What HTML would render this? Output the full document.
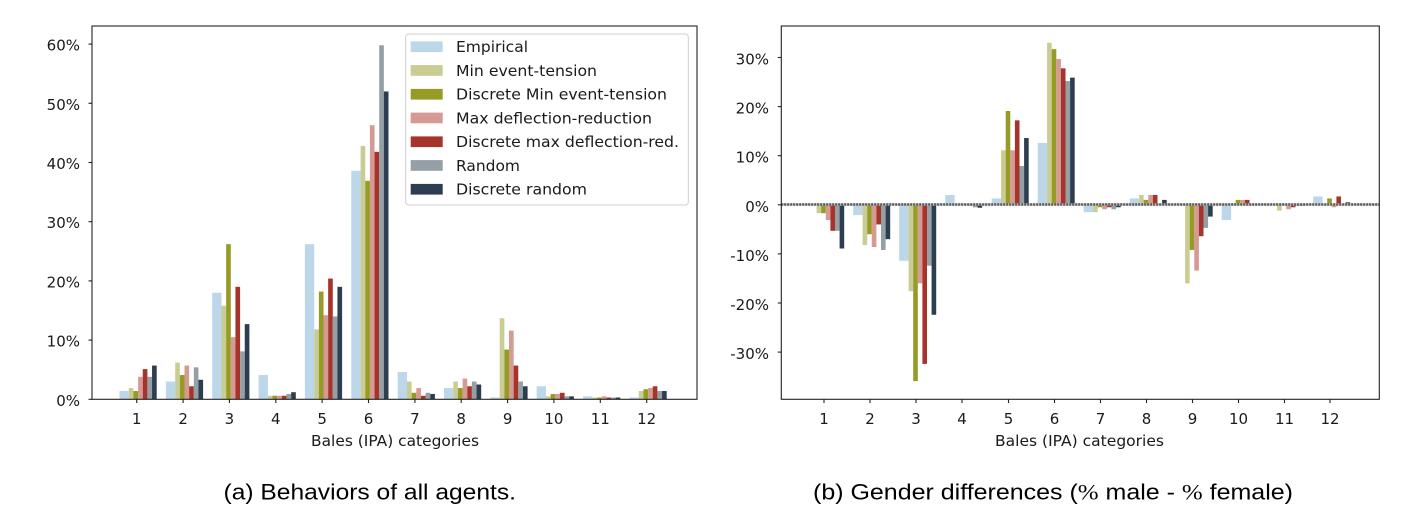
<!DOCTYPE html>
<html><head><meta charset="utf-8"><style>
html,body{margin:0;padding:0;background:#fff;}
svg{display:block;}
.c0{fill:#bcd6ea}.c1{fill:#c9cc93}.c2{fill:#969b25}.c3{fill:#d49a93}.c4{fill:#a6342a}.c5{fill:#959fa6}.c6{fill:#2c3e50}
text{font-family:"DejaVu Sans","Liberation Sans",sans-serif;fill:#1a1a1a;}
.tk{font-size:15px;}
.cap{font-family:"Liberation Sans",sans-serif;font-size:22px;fill:#000;}
</style></head><body>
<svg width="1407" height="521" viewBox="0 0 1407 521" xmlns="http://www.w3.org/2000/svg">
<rect width="1407" height="521" fill="#fff"/>

<!-- LEFT CHART BARS -->
<g transform="translate(136.7,399.3) scale(1,-5.92)"><rect class="c0" x="-17.2" width="9.3" height="1.4"/><rect class="c1" x="-7.9" width="4.65" height="1.9"/><rect class="c2" x="-3.25" width="4.65" height="1.4"/><rect class="c3" x="1.4" width="4.65" height="3.8"/><rect class="c4" x="6.05" width="4.65" height="5.1"/><rect class="c5" x="10.7" width="4.65" height="3.8"/><rect class="c6" x="15.35" width="4.65" height="5.7"/></g>
<g transform="translate(183.1,399.3) scale(1,-5.92)"><rect class="c0" x="-17.2" width="9.3" height="3.0"/><rect class="c1" x="-7.9" width="4.65" height="6.2"/><rect class="c2" x="-3.25" width="4.65" height="4.1"/><rect class="c3" x="1.4" width="4.65" height="5.7"/><rect class="c4" x="6.05" width="4.65" height="2.2"/><rect class="c5" x="10.7" width="4.65" height="5.4"/><rect class="c6" x="15.35" width="4.65" height="3.3"/></g>
<g transform="translate(229.4,399.3) scale(1,-5.92)"><rect class="c0" x="-17.2" width="9.3" height="18.0"/><rect class="c1" x="-7.9" width="4.65" height="15.8"/><rect class="c2" x="-3.25" width="4.65" height="26.2"/><rect class="c3" x="1.4" width="4.65" height="10.5"/><rect class="c4" x="6.05" width="4.65" height="19.0"/><rect class="c5" x="10.7" width="4.65" height="8.1"/><rect class="c6" x="15.35" width="4.65" height="12.7"/></g>
<g transform="translate(275.8,399.3) scale(1,-5.92)"><rect class="c0" x="-17.2" width="9.3" height="4.1"/><rect class="c1" x="-7.9" width="4.65" height="0.6"/><rect class="c2" x="-3.25" width="4.65" height="0.6"/><rect class="c3" x="1.4" width="4.65" height="0.6"/><rect class="c4" x="6.05" width="4.65" height="0.6"/><rect class="c5" x="10.7" width="4.65" height="0.9"/><rect class="c6" x="15.35" width="4.65" height="1.2"/></g>
<g transform="translate(322.1,399.3) scale(1,-5.92)"><rect class="c0" x="-17.2" width="9.3" height="26.2"/><rect class="c1" x="-7.9" width="4.65" height="11.8"/><rect class="c2" x="-3.25" width="4.65" height="18.2"/><rect class="c3" x="1.4" width="4.65" height="14.2"/><rect class="c4" x="6.05" width="4.65" height="20.4"/><rect class="c5" x="10.7" width="4.65" height="14.0"/><rect class="c6" x="15.35" width="4.65" height="19.0"/></g>
<g transform="translate(368.5,399.3) scale(1,-5.92)"><rect class="c0" x="-17.2" width="9.3" height="38.6"/><rect class="c1" x="-7.9" width="4.65" height="42.8"/><rect class="c2" x="-3.25" width="4.65" height="36.9"/><rect class="c3" x="1.4" width="4.65" height="46.3"/><rect class="c4" x="6.05" width="4.65" height="41.8"/><rect class="c5" x="10.7" width="4.65" height="59.8"/><rect class="c6" x="15.35" width="4.65" height="52.0"/></g>
<g transform="translate(414.9,399.3) scale(1,-5.92)"><rect class="c0" x="-17.2" width="9.3" height="4.6"/><rect class="c1" x="-7.9" width="4.65" height="3.0"/><rect class="c2" x="-3.25" width="4.65" height="1.1"/><rect class="c3" x="1.4" width="4.65" height="1.9"/><rect class="c4" x="6.05" width="4.65" height="0.6"/><rect class="c5" x="10.7" width="4.65" height="1.1"/><rect class="c6" x="15.35" width="4.65" height="0.9"/></g>
<g transform="translate(461.2,399.3) scale(1,-5.92)"><rect class="c0" x="-17.2" width="9.3" height="1.9"/><rect class="c1" x="-7.9" width="4.65" height="3.0"/><rect class="c2" x="-3.25" width="4.65" height="1.9"/><rect class="c3" x="1.4" width="4.65" height="3.5"/><rect class="c4" x="6.05" width="4.65" height="2.2"/><rect class="c5" x="10.7" width="4.65" height="3.0"/><rect class="c6" x="15.35" width="4.65" height="2.5"/></g>
<g transform="translate(507.6,399.3) scale(1,-5.92)"><rect class="c0" x="-17.2" width="9.3" height="0.3"/><rect class="c1" x="-7.9" width="4.65" height="13.7"/><rect class="c2" x="-3.25" width="4.65" height="8.4"/><rect class="c3" x="1.4" width="4.65" height="11.6"/><rect class="c4" x="6.05" width="4.65" height="5.7"/><rect class="c5" x="10.7" width="4.65" height="3.0"/><rect class="c6" x="15.35" width="4.65" height="2.2"/></g>
<g transform="translate(553.9,399.3) scale(1,-5.92)"><rect class="c0" x="-17.2" width="9.3" height="2.2"/><rect class="c1" x="-7.9" width="4.65" height="0.5"/><rect class="c2" x="-3.25" width="4.65" height="0.9"/><rect class="c3" x="1.4" width="4.65" height="0.9"/><rect class="c4" x="6.05" width="4.65" height="1.1"/><rect class="c5" x="10.7" width="4.65" height="0.5"/><rect class="c6" x="15.35" width="4.65" height="0.5"/></g>
<g transform="translate(600.3,399.3) scale(1,-5.92)"><rect class="c0" x="-17.2" width="9.3" height="0.5"/><rect class="c1" x="-7.9" width="4.65" height="0.3"/><rect class="c2" x="-3.25" width="4.65" height="0.3"/><rect class="c3" x="1.4" width="4.65" height="0.5"/><rect class="c4" x="6.05" width="4.65" height="0.3"/><rect class="c5" x="10.7" width="4.65" height="0.3"/><rect class="c6" x="15.35" width="4.65" height="0.3"/></g>
<g transform="translate(646.7,399.3) scale(1,-5.92)"><rect class="c0" x="-17.2" width="9.3" height="0.3"/><rect class="c1" x="-7.9" width="4.65" height="1.4"/><rect class="c2" x="-3.25" width="4.65" height="1.7"/><rect class="c3" x="1.4" width="4.65" height="1.9"/><rect class="c4" x="6.05" width="4.65" height="2.2"/><rect class="c5" x="10.7" width="4.65" height="1.4"/><rect class="c6" x="15.35" width="4.65" height="1.4"/></g>

<!-- LEFT AXES -->
<rect x="92" y="26" width="605" height="373.3" fill="none" stroke="#222" stroke-width="1.1"/>
<g stroke="#222" stroke-width="1.1">
<line x1="88.5" x2="92" y1="399.3" y2="399.3"/><line x1="88.5" x2="92" y1="340.1" y2="340.1"/><line x1="88.5" x2="92" y1="280.9" y2="280.9"/><line x1="88.5" x2="92" y1="221.7" y2="221.7"/><line x1="88.5" x2="92" y1="162.5" y2="162.5"/><line x1="88.5" x2="92" y1="103.3" y2="103.3"/><line x1="88.5" x2="92" y1="44.1" y2="44.1"/>
<line x1="136.7" x2="136.7" y1="399.3" y2="403"/><line x1="183.1" x2="183.1" y1="399.3" y2="403"/><line x1="229.4" x2="229.4" y1="399.3" y2="403"/><line x1="275.8" x2="275.8" y1="399.3" y2="403"/><line x1="322.1" x2="322.1" y1="399.3" y2="403"/><line x1="368.5" x2="368.5" y1="399.3" y2="403"/><line x1="414.9" x2="414.9" y1="399.3" y2="403"/><line x1="461.2" x2="461.2" y1="399.3" y2="403"/><line x1="507.6" x2="507.6" y1="399.3" y2="403"/><line x1="553.9" x2="553.9" y1="399.3" y2="403"/><line x1="600.3" x2="600.3" y1="399.3" y2="403"/><line x1="646.7" x2="646.7" y1="399.3" y2="403"/>
</g>
<g class="tk" text-anchor="end">
<text x="80" y="405.8">0%</text><text x="80" y="346.6">10%</text><text x="80" y="287.4">20%</text><text x="80" y="228.2">30%</text><text x="80" y="169">40%</text><text x="80" y="109.8">50%</text><text x="80" y="50.6">60%</text>
</g>
<g class="tk" text-anchor="middle">
<text x="136.7" y="424">1</text><text x="183.1" y="424">2</text><text x="229.4" y="424">3</text><text x="275.8" y="424">4</text><text x="322.1" y="424">5</text><text x="368.5" y="424">6</text><text x="414.9" y="424">7</text><text x="461.2" y="424">8</text><text x="507.6" y="424">9</text><text x="553.9" y="424">10</text><text x="600.3" y="424">11</text><text x="646.7" y="424">12</text>
</g>
<text x="311" y="446" font-size="15" textLength="168" lengthAdjust="spacingAndGlyphs">Bales (IPA) categories</text>

<!-- LEGEND -->
<rect x="405.7" y="34" width="282.6" height="171" rx="3" fill="#fff" fill-opacity="0.85" stroke="#cfcfcf" stroke-width="1"/>
<rect class="c0" x="410.7" y="41.4" width="32" height="10.7"/>
<rect class="c1" x="410.7" y="65.1" width="32" height="10.7"/>
<rect class="c2" x="410.7" y="88.9" width="32" height="10.7"/>
<rect class="c3" x="410.7" y="112.6" width="32" height="10.7"/>
<rect class="c4" x="410.7" y="136.4" width="32" height="10.7"/>
<rect class="c5" x="410.7" y="160.1" width="32" height="10.7"/>
<rect class="c6" x="410.7" y="183.9" width="32" height="10.7"/>
<g font-size="15.5">
<text x="456" y="52.2" textLength="72" lengthAdjust="spacingAndGlyphs">Empirical</text>
<text x="456" y="75.9" textLength="141" lengthAdjust="spacingAndGlyphs">Min event-tension</text>
<text x="456" y="99.7" textLength="211" lengthAdjust="spacingAndGlyphs">Discrete Min event-tension</text>
<text x="456" y="123.4" textLength="196" lengthAdjust="spacingAndGlyphs">Max deflection-reduction</text>
<text x="456" y="147.2" textLength="223" lengthAdjust="spacingAndGlyphs">Discrete max deflection-red.</text>
<text x="456" y="170.9" textLength="64" lengthAdjust="spacingAndGlyphs">Random</text>
<text x="456" y="194.7" textLength="131" lengthAdjust="spacingAndGlyphs">Discrete random</text>
</g>

<!-- RIGHT CHART BARS -->
<g transform="translate(824,204.8) scale(1,-4.91)"><rect class="c1" x="-7.4" y="-1.7" width="4.6" height="1.7"/><rect class="c2" x="-2.8" y="-1.7" width="4.6" height="1.7"/><rect class="c3" x="1.8" y="-3.1" width="4.6" height="3.1"/><rect class="c4" x="6.4" y="-5.3" width="4.6" height="5.3"/><rect class="c5" x="11" y="-5.3" width="4.6" height="5.3"/><rect class="c6" x="15.6" y="-8.9" width="4.6" height="8.9"/></g>
<g transform="translate(870,204.8) scale(1,-4.91)"><rect class="c0" x="-16.8" y="-2.1" width="9.4" height="2.1"/><rect class="c1" x="-7.4" y="-8.2" width="4.6" height="8.2"/><rect class="c2" x="-2.8" y="-6.0" width="4.6" height="6.0"/><rect class="c3" x="1.8" y="-8.6" width="4.6" height="8.6"/><rect class="c4" x="6.4" y="-4.0" width="4.6" height="4.0"/><rect class="c5" x="11" y="-9.2" width="4.6" height="9.2"/><rect class="c6" x="15.6" y="-7.0" width="4.6" height="7.0"/></g>
<g transform="translate(916,204.8) scale(1,-4.91)"><rect class="c0" x="-16.8" y="-11.4" width="9.4" height="11.4"/><rect class="c1" x="-7.4" y="-17.6" width="4.6" height="17.6"/><rect class="c2" x="-2.8" y="-35.9" width="4.6" height="35.9"/><rect class="c3" x="1.8" y="-16.0" width="4.6" height="16.0"/><rect class="c4" x="6.4" y="-32.4" width="4.6" height="32.4"/><rect class="c5" x="11" y="-12.4" width="4.6" height="12.4"/><rect class="c6" x="15.6" y="-22.4" width="4.6" height="22.4"/></g>
<g transform="translate(962,204.8) scale(1,-4.91)"><rect class="c0" x="-16.8" y="0" width="9.4" height="2.0"/><rect class="c4" x="6.4" y="-0.2" width="4.6" height="0.2"/><rect class="c5" x="11" y="-0.5" width="4.6" height="0.5"/><rect class="c6" x="15.6" y="-0.6" width="4.6" height="0.6"/></g>
<g transform="translate(1008.5,204.8) scale(1,-4.91)"><rect class="c0" x="-16.8" y="0" width="9.4" height="1.3"/><rect class="c1" x="-7.4" y="0" width="4.6" height="11.1"/><rect class="c2" x="-2.8" y="0" width="4.6" height="19.1"/><rect class="c3" x="1.8" y="0" width="4.6" height="11.1"/><rect class="c4" x="6.4" y="0" width="4.6" height="17.2"/><rect class="c5" x="11" y="0" width="4.6" height="7.9"/><rect class="c6" x="15.6" y="0" width="4.6" height="13.6"/></g>
<g transform="translate(1054.5,204.8) scale(1,-4.91)"><rect class="c0" x="-16.8" y="0" width="9.4" height="12.6"/><rect class="c1" x="-7.4" y="0" width="4.6" height="33.0"/><rect class="c2" x="-2.8" y="0" width="4.6" height="31.7"/><rect class="c3" x="1.8" y="0" width="4.6" height="29.7"/><rect class="c4" x="6.4" y="0" width="4.6" height="27.8"/><rect class="c5" x="11" y="0" width="4.6" height="25.2"/><rect class="c6" x="15.6" y="0" width="4.6" height="25.9"/></g>
<g transform="translate(1100.5,204.8) scale(1,-4.91)"><rect class="c0" x="-16.8" y="-1.5" width="9.4" height="1.5"/><rect class="c1" x="-7.4" y="-1.5" width="4.6" height="1.5"/><rect class="c2" x="-2.8" y="-0.5" width="4.6" height="0.5"/><rect class="c3" x="1.8" y="-0.9" width="4.6" height="0.9"/><rect class="c4" x="6.4" y="-0.5" width="4.6" height="0.5"/><rect class="c5" x="11" y="-0.9" width="4.6" height="0.9"/><rect class="c6" x="15.6" y="-0.5" width="4.6" height="0.5"/></g>
<g transform="translate(1146.5,204.8) scale(1,-4.91)"><rect class="c0" x="-16.8" y="0" width="9.4" height="1.3"/><rect class="c1" x="-7.4" y="0" width="4.6" height="2.0"/><rect class="c2" x="-2.8" y="0" width="4.6" height="1.0"/><rect class="c3" x="1.8" y="0" width="4.6" height="2.0"/><rect class="c4" x="6.4" y="0" width="4.6" height="2.0"/><rect class="c5" x="11" y="0" width="4.6" height="0.2"/><rect class="c6" x="15.6" y="0" width="4.6" height="1.0"/></g>
<g transform="translate(1192.5,204.8) scale(1,-4.91)"><rect class="c1" x="-7.4" y="-16.0" width="4.6" height="16.0"/><rect class="c2" x="-2.8" y="-9.2" width="4.6" height="9.2"/><rect class="c3" x="1.8" y="-13.4" width="4.6" height="13.4"/><rect class="c4" x="6.4" y="-6.4" width="4.6" height="6.4"/><rect class="c5" x="11" y="-4.7" width="4.6" height="4.7"/><rect class="c6" x="15.6" y="-2.4" width="4.6" height="2.4"/></g>
<g transform="translate(1238.5,204.8) scale(1,-4.91)"><rect class="c0" x="-16.8" y="-3.1" width="9.4" height="3.1"/><rect class="c1" x="-7.4" y="0" width="4.6" height="0.3"/><rect class="c2" x="-2.8" y="0" width="4.6" height="1.0"/><rect class="c3" x="1.8" y="0" width="4.6" height="1.0"/><rect class="c4" x="6.4" y="0" width="4.6" height="1.0"/><rect class="c5" x="11" y="0" width="4.6" height="0.1"/><rect class="c6" x="15.6" y="0" width="4.6" height="0.2"/></g>
<g transform="translate(1284.5,204.8) scale(1,-4.91)"><rect class="c1" x="-7.4" y="-1.2" width="4.6" height="1.2"/><rect class="c3" x="1.8" y="-0.9" width="4.6" height="0.9"/><rect class="c4" x="6.4" y="-0.5" width="4.6" height="0.5"/><rect class="c5" x="11" y="-0.2" width="4.6" height="0.2"/><rect class="c6" x="15.6" y="-0.2" width="4.6" height="0.2"/></g>
<g transform="translate(1330,204.8) scale(1,-4.91)"><rect class="c0" x="-16.8" y="0" width="9.4" height="1.7"/><rect class="c2" x="-2.8" y="0" width="4.6" height="1.3"/><rect class="c3" x="1.8" y="-0.5" width="4.6" height="0.5"/><rect class="c4" x="6.4" y="0" width="4.6" height="1.7"/><rect class="c6" x="15.6" y="0" width="4.6" height="0.5"/></g>

<!-- zero dotted line -->
<line x1="781.3" x2="1379.3" y1="204.5" y2="204.5" stroke="#b5b5b5" stroke-width="2.4"/>
<line x1="781.3" x2="1379.3" y1="204.5" y2="204.5" stroke="#555" stroke-width="2.4" stroke-dasharray="1.6 1.4"/>

<!-- RIGHT AXES -->
<rect x="781.3" y="26" width="598" height="373.3" fill="none" stroke="#222" stroke-width="1.1"/>
<g stroke="#222" stroke-width="1.1">
<line x1="777.8" x2="781.3" y1="57.5" y2="57.5"/><line x1="777.8" x2="781.3" y1="106.6" y2="106.6"/><line x1="777.8" x2="781.3" y1="155.7" y2="155.7"/><line x1="777.8" x2="781.3" y1="204.8" y2="204.8"/><line x1="777.8" x2="781.3" y1="253.9" y2="253.9"/><line x1="777.8" x2="781.3" y1="303" y2="303"/><line x1="777.8" x2="781.3" y1="352.1" y2="352.1"/>
<line x1="824" x2="824" y1="399.3" y2="403"/><line x1="870" x2="870" y1="399.3" y2="403"/><line x1="916" x2="916" y1="399.3" y2="403"/><line x1="962" x2="962" y1="399.3" y2="403"/><line x1="1008.5" x2="1008.5" y1="399.3" y2="403"/><line x1="1054.5" x2="1054.5" y1="399.3" y2="403"/><line x1="1100.5" x2="1100.5" y1="399.3" y2="403"/><line x1="1146.5" x2="1146.5" y1="399.3" y2="403"/><line x1="1192.5" x2="1192.5" y1="399.3" y2="403"/><line x1="1238.5" x2="1238.5" y1="399.3" y2="403"/><line x1="1284.5" x2="1284.5" y1="399.3" y2="403"/><line x1="1330" x2="1330" y1="399.3" y2="403"/>
</g>
<g class="tk" text-anchor="end">
<text x="769" y="64.5">30%</text><text x="769" y="113.6">20%</text><text x="769" y="162.7">10%</text><text x="769" y="211.8">0%</text><text x="769" y="260.9">-10%</text><text x="769" y="310">-20%</text><text x="769" y="359.1">-30%</text>
</g>
<g class="tk" text-anchor="middle">
<text x="824" y="424">1</text><text x="870" y="424">2</text><text x="916" y="424">3</text><text x="962" y="424">4</text><text x="1008.5" y="424">5</text><text x="1054.5" y="424">6</text><text x="1100.5" y="424">7</text><text x="1146.5" y="424">8</text><text x="1192.5" y="424">9</text><text x="1238.5" y="424">10</text><text x="1284.5" y="424">11</text><text x="1330" y="424">12</text>
</g>
<text x="995" y="446" font-size="15" textLength="169" lengthAdjust="spacingAndGlyphs">Bales (IPA) categories</text>

<!-- CAPTIONS -->
<text class="cap" x="223.5" y="499.5" textLength="292.5" lengthAdjust="spacingAndGlyphs">(a) Behaviors of all agents.</text>
<text class="cap" x="813" y="499.5" textLength="480" lengthAdjust="spacingAndGlyphs">(b) Gender differences (<tspan font-family="Liberation Serif">%</tspan> male - <tspan font-family="Liberation Serif">%</tspan> female)</text>
</svg>
</body></html>
